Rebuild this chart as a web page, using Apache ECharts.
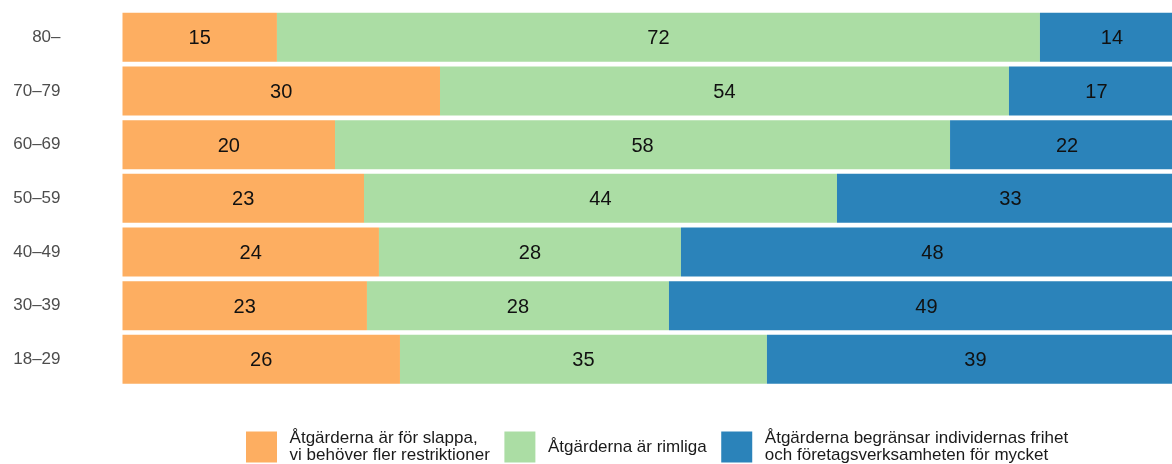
<!DOCTYPE html>
<html>
<head>
<meta charset="utf-8">
<script src="https://cdn.jsdelivr.net/npm/echarts@6/dist/echarts.min.js"></script>
<style>
html,body{margin:0;padding:0;background:#fff;overflow:hidden;}
#chart{width:1184px;height:464px;}
</style>
</head>
<body>
<div id="chart"></div>
<script>
const categories = ['80–', '70–79', '60–69', '50–59', '40–49', '30–39', '18–29'];
const seriesNames = [
  'Åtgärderna är för slappa,\nvi behöver fler restriktioner',
  'Åtgärderna är rimliga',
  'Åtgärderna begränsar individernas frihet\noch företagsverksamheten för mycket'
];
// estimated shares (percent)
const slappa = [14.55, 29.91, 20.02, 22.75, 24.16, 23.03, 26.14];
const rimliga = [71.88, 53.60, 57.94, 44.56, 28.45, 28.45, 34.57];
const begransar = [13.57, 16.49, 22.04, 32.69, 47.39, 48.52, 39.28];
// printed labels
const slappaLabels = [15, 30, 20, 23, 24, 23, 26];
const rimligaLabels = [72, 54, 58, 44, 28, 28, 35];
const begransarLabels = [14, 17, 22, 33, 48, 49, 39];

const colors = ['#fdae61', '#abdda4', '#2b83ba'];
const values = [slappa, rimliga, begransar];
const labels = [slappaLabels, rimligaLabels, begransarLabels];

const chart = echarts.init(document.getElementById('chart'), null, {renderer: 'canvas'});
chart.setOption({
  animation: false,
  backgroundColor: '#ffffff',
  grid: {left: 122.5, right: 0, top: 10.5, bottom: 77.8, containLabel: false},
  xAxis: {type: 'value', min: 0, max: 100, show: false},
  yAxis: {
    type: 'category', data: categories, inverse: true,
    axisLine: {show: false}, axisTick: {show: false}, splitLine: {show: false},
    axisLabel: {margin: 62, fontSize: 17, color: '#4d4d4d', fontFamily: 'Liberation Sans, Arial, sans-serif'}
  },
  legend: {
    left: 246, top: 430, orient: 'horizontal', padding: 0,
    itemWidth: 31, itemHeight: 31, itemGap: 14.5, icon: 'rect',
    textStyle: {fontSize: 17, lineHeight: 17, color: '#1a1a1a', fontFamily: 'Liberation Sans, Arial, sans-serif', padding: [0, 0, 0, 7.6]},
    data: seriesNames
  },
  series: seriesNames.map((name, i) => ({
    name: name,
    type: 'bar',
    stack: 'total',
    barCategoryGap: '8.7%',
    itemStyle: {color: colors[i]},
    label: {
      show: true, position: 'inside', fontSize: 20, color: '#111',
      offset: [0, 1.5],
      fontFamily: 'Liberation Sans, Arial, sans-serif',
      formatter: p => String(labels[i][p.dataIndex])
    },
    emphasis: {disabled: true},
    data: values[i]
  }))
});
</script>
</body>
</html>
